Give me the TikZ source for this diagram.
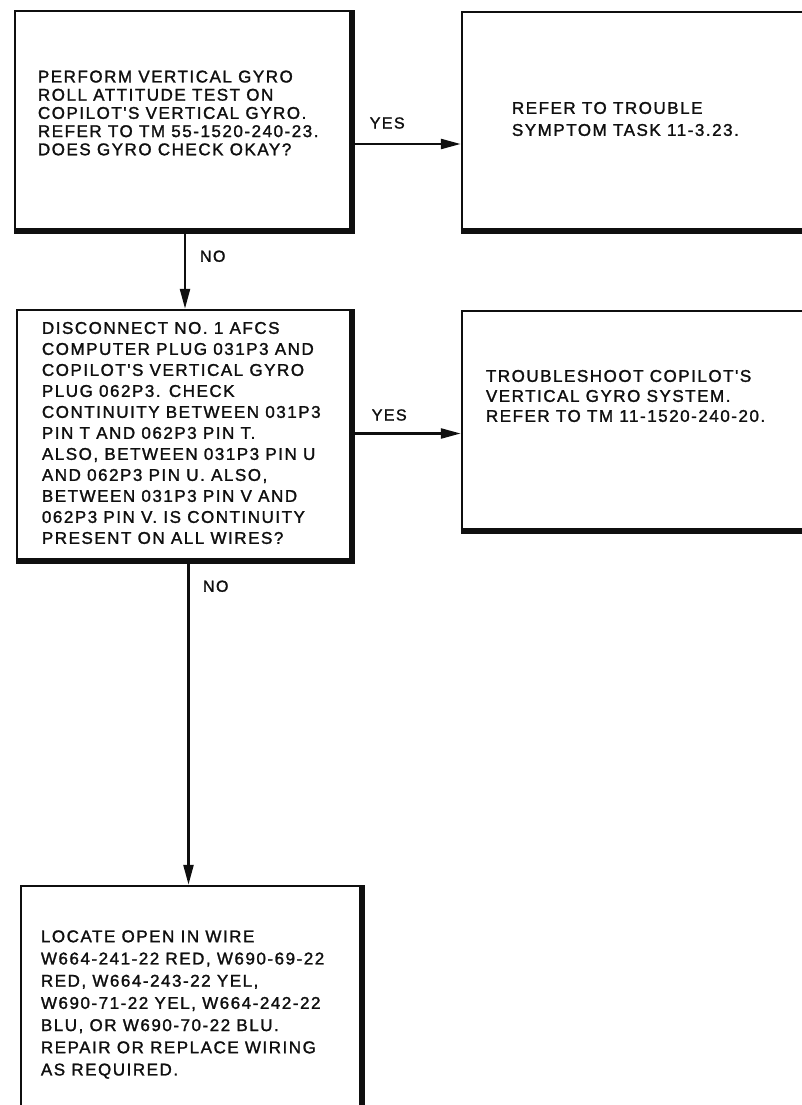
\documentclass[tikz,border=0pt]{standalone}
\usepackage{fontspec}
\setmainfont{Liberation Sans}
\newfontfamily\flowfont[LetterSpace=9,FakeBold=1.5]{Liberation Sans}
\usetikzlibrary{
  arrows.meta,
  positioning
}
\definecolor{inkcolor}{RGB}{15, 15, 15}
\tikzset{
flowbox/.style={
  draw=inkcolor,
  line width=2.5pt,
  fill=white,
  inner sep=0pt
},
heavyedge/.style={
  draw=inkcolor,
  line width=6pt
},
boxtext/.style={
  align=left,
  inner sep=0pt,
  text=inkcolor,
  node distance=24pt
},
flowlabel/.style={
  anchor=west,
  font=\flowfont\fontsize{16}{19}\selectfont,
  text=inkcolor
},
arrow/.style={
  -{Triangle[length=20pt,width=10pt]},
  line width=2.5pt,
  draw=inkcolor
}
}

\begin{document}
\begin{tikzpicture}[x=1pt,y=-1pt]
  \useasboundingbox (0,0) rectangle (802,1105);

  % boxes
  \node[flowbox, minimum width=337pt, minimum height=220pt] (gyrotest) at (183.5,121) {};
  \node[flowbox, minimum width=350pt, minimum height=219pt] (refertask) at (637,121.5) {};
  \node[flowbox, minimum width=335pt, minimum height=251pt] (disconnect) at (184.5,435.5) {};
  \node[flowbox, minimum width=350pt, minimum height=220pt] (troubleshoot) at (637,421) {};
  \node[flowbox, minimum width=341pt, minimum height=222pt] (locatewire) at (191.5,997) {};

  \foreach \n in {gyrotest,refertask,disconnect,troubleshoot,locatewire}
    \draw[heavyedge] ([yshift=1.75pt]\n.south west) -| ([xshift=-1.75pt]\n.north east);

  % texts
  \node[boxtext, font=\flowfont\fontsize{17}{18.2}\selectfont, right=24pt of gyrotest.west, yshift=8pt] (gyrotest-txt) {%
    PERFORM VERTICAL GYRO\\
    ROLL ATTITUDE TEST ON\\
    COPILOT'S VERTICAL GYRO.\\
    REFER TO TM 55-1520-240-23.\\
    DOES GYRO CHECK OKAY?};
  \node[boxtext, font=\flowfont\fontsize{17}{22}\selectfont, right=51pt of refertask.west, yshift=2.5pt] (refertask-txt) {%
    REFER TO TROUBLE\\
    SYMPTOM TASK 11-3.23.};
  \node[boxtext, font=\flowfont\fontsize{17}{21}\selectfont, right=26pt of disconnect.west, yshift=2.5pt] (disconnect-txt) {%
    DISCONNECT NO. 1 AFCS\\
    COMPUTER PLUG 031P3 AND\\
    COPILOT'S VERTICAL GYRO\\
    PLUG 062P3. CHECK\\
    CONTINUITY BETWEEN 031P3\\
    PIN T AND 062P3 PIN T.\\
    ALSO, BETWEEN 031P3 PIN U\\
    AND 062P3 PIN U. ALSO,\\
    BETWEEN 031P3 PIN V AND\\
    062P3 PIN V. IS CONTINUITY\\
    PRESENT ON ALL WIRES?};
  \node[boxtext, font=\flowfont\fontsize{17}{20}\selectfont, right=25pt of troubleshoot.west, yshift=25pt] (troubleshoot-txt) {%
    TROUBLESHOOT COPILOT'S\\
    VERTICAL GYRO SYSTEM.\\
    REFER TO TM 11-1520-240-20.};
  \node[boxtext, font=\flowfont\fontsize{17}{22.2}\selectfont, right=21pt of locatewire.west, yshift=-7.5pt] (locatewire-txt) {%
    LOCATE OPEN IN WIRE\\
    W664-241-22 RED, W690-69-22\\
    RED, W664-243-22 YEL,\\
    W690-71-22 YEL, W664-242-22\\
    BLU, OR W690-70-22 BLU.\\
    REPAIR OR REPLACE WIRING\\
    AS REQUIRED.};

  % connectors
  \draw[arrow] ([yshift=-23pt]gyrotest.east) -- ([yshift=-23pt]gyrotest.east -| refertask.west);
  \draw[arrow] ([yshift=2pt]disconnect.east) -- ([yshift=2pt]disconnect.east -| troubleshoot.west);
  \draw[arrow] ([xshift=1.5pt]gyrotest.south) -- ([xshift=1.5pt]gyrotest.south |- disconnect.north);
  \draw[arrow] ([xshift=4pt]disconnect.south) -- ([xshift=4pt]disconnect.south |- locatewire.north);

  \node[flowlabel] (yes-a) at ([xshift=13pt,yshift=-2pt]gyrotest.east) {YES};
  \node[flowlabel] (yes-b) at ([xshift=15pt,yshift=20.5pt]disconnect.east) {YES};
  \node[flowlabel] (no-a) at ([xshift=13pt,yshift=-24pt]gyrotest.south) {NO};
  \node[flowlabel] (no-b) at ([xshift=15pt,yshift=-24pt]disconnect.south) {NO};
\end{tikzpicture}
\end{document}
